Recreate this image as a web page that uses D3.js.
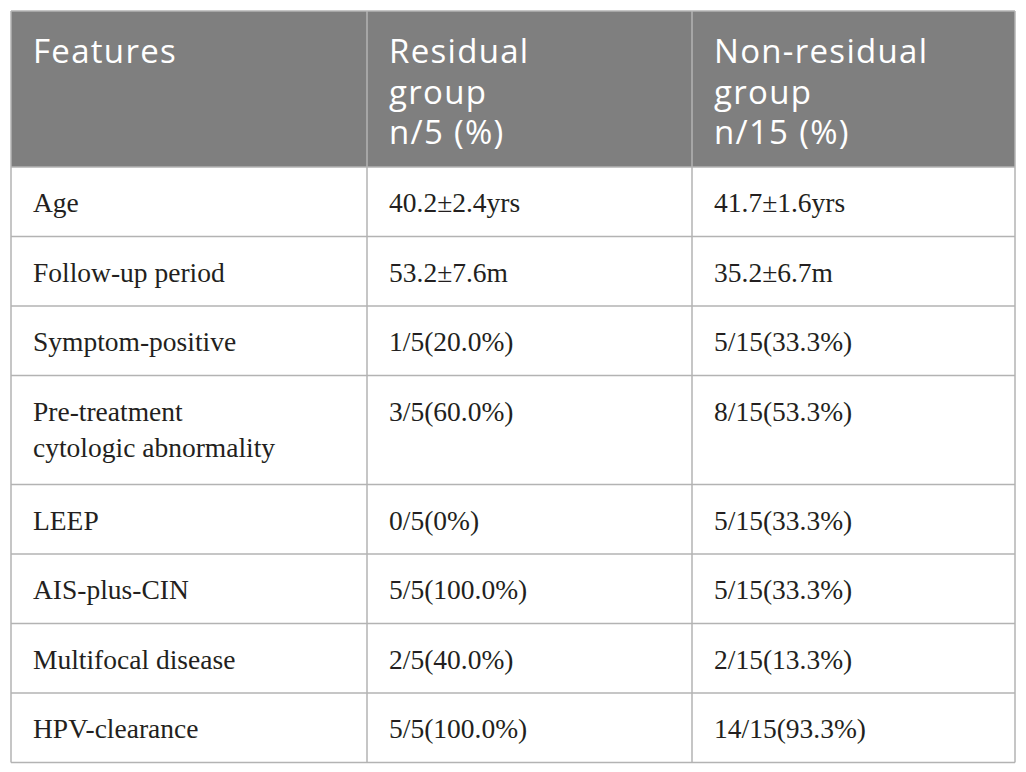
<!DOCTYPE html>
<html>
<head>
<meta charset="utf-8">
<script src="https://cdn.jsdelivr.net/npm/d3@7"></script>
<style>
  body { margin: 0; background: #fff; }
  .head { font-family: "Open Sans", sans-serif; fill: #fff; letter-spacing: 1.3px; }
  .cell { font-family: "Liberation Serif", serif; fill: #231f20; }
</style>
</head>
<body>
<div id="table"></div>
<script>
// table content
var headers = [["Features"], ["Residual", "group", "n/5 (%)"], ["Non-residual", "group", "n/15 (%)"]];
var features = [["Age"], ["Follow-up period"], ["Symptom-positive"], ["Pre-treatment", "cytologic abnormality"],
    ["LEEP"], ["AIS-plus-CIN"], ["Multifocal disease"], ["HPV-clearance"]];
var residual = ["40.2\u00b12.4yrs", "53.2\u00b17.6m", "1/5(20.0%)", "3/5(60.0%)", "0/5(0%)", "5/5(100.0%)", "2/5(40.0%)", "5/5(100.0%)"];
var nonResidual = ["41.7\u00b11.6yrs", "35.2\u00b16.7m", "5/15(33.3%)", "8/15(53.3%)", "5/15(33.3%)", "5/15(33.3%)", "2/15(13.3%)", "14/15(93.3%)"];

var W = 1026, H = 772;
var tLeft = 11, tRight = 1015, tTop = 11;
var colEdges = [tLeft, 367, 692, tRight];
var headH = 156, rowH = 69.5, extraLine = 39.5;

var svg = d3.select("#table").append("svg")
    .attr("width", W)
    .attr("height", H);

// row layout from number of lines per feature
var rows = features.map(function(f, i) {
    return { lines: [f, [residual[i]], [nonResidual[i]]], h: rowH + (f.length - 1) * extraLine };
});
var y0 = tTop + headH;
rows.forEach(function(r) { r.y = y0; y0 += r.h; });
var tBottom = y0;

// header
svg.append("rect")
    .attr("x", tLeft).attr("y", tTop)
    .attr("width", tRight - tLeft).attr("height", headH)
    .attr("fill", "#7f7f7f");

headers.forEach(function(h, c) {
    var t = svg.append("text")
        .attr("class", "head")
        .attr("x", colEdges[c] + 22)
        .attr("y", tTop + 52)
        .style("font-size", "33px");
    h.forEach(function(line, k) {
        t.append("tspan")
            .attr("x", colEdges[c] + 22)
            .attr("dy", k === 0 ? 0 : 40.5)
            .text(line);
    });
});

// body cells
var g = svg.selectAll(".row")
    .data(rows)
    .enter()
    .append("g")
    .attr("class", "row")
    .attr("transform", function(d) { return "translate(0," + d.y + ")"; });

g.each(function(d) {
    var sel = d3.select(this);
    d.lines.forEach(function(cellLines, c) {
        var t = sel.append("text")
            .attr("class", "cell")
            .attr("x", colEdges[c] + 22)
            .attr("y", 45)
            .style("font-size", "27.5px");
        cellLines.forEach(function(line, k) {
            t.append("tspan")
                .attr("x", colEdges[c] + 22)
                .attr("dy", k === 0 ? 0 : 36)
                .text(line);
        });
    });
});

// grid lines
var gridColor = "#b3b3b3";
rows.forEach(function(r) {
    svg.append("line")
        .attr("x1", tLeft).attr("x2", tRight)
        .attr("y1", r.y).attr("y2", r.y)
        .attr("stroke", gridColor).attr("stroke-width", 1.5);
});
colEdges.forEach(function(x) {
    svg.append("line")
        .attr("x1", x).attr("x2", x)
        .attr("y1", tTop).attr("y2", tBottom)
        .attr("stroke", gridColor)
        .attr("stroke-width", 1.5);
});
[tTop, tBottom].forEach(function(y) {
    svg.append("line")
        .attr("x1", tLeft).attr("x2", tRight)
        .attr("y1", y).attr("y2", y)
        .attr("stroke", gridColor).attr("stroke-width", 1.5);
});
</script>
</body>
</html>
